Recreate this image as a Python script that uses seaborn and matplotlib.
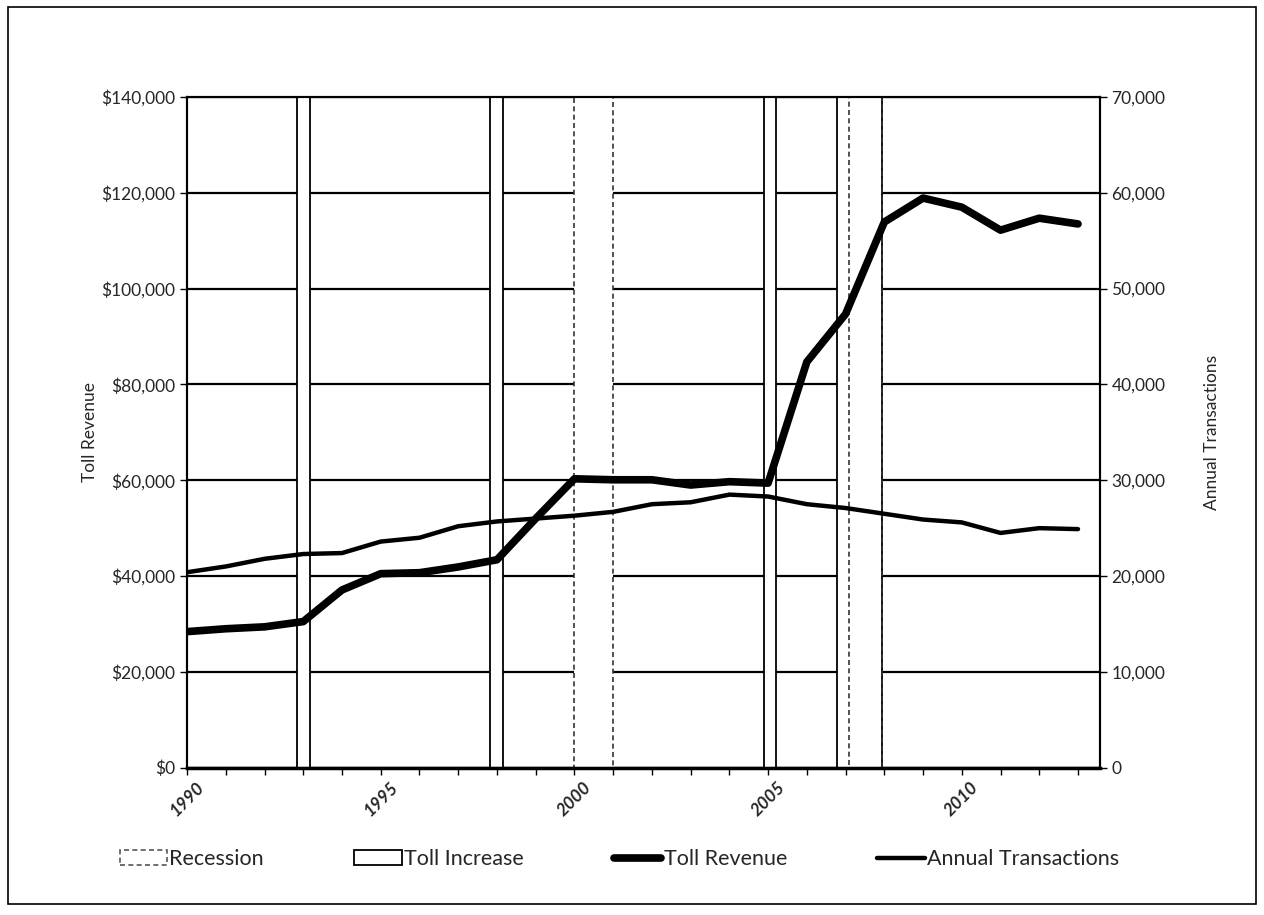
import numpy as np
import pandas as pd
import matplotlib
matplotlib.use("Agg")
import matplotlib.pyplot as plt
import matplotlib.ticker as mticker
from matplotlib.patches import Patch, Rectangle
from matplotlib.lines import Line2D
import seaborn as sns

# Data
years = list(range(1990, 2014))
toll_revenue = [28400, 29000, 29400, 30500, 37100, 40500, 40700, 41900, 43400, 52000,
                60300, 60100, 60100, 59000, 59700, 59400, 84700, 94700, 113900, 118900,
                117000, 112200, 114700, 113500]
annual_transactions = [20400, 21000, 21800, 22300, 22400, 23600, 24000, 25200, 25700, 26000,
                       26300, 26700, 27500, 27700, 28500, 28300, 27500, 27100, 26500, 25900,
                       25600, 24500, 25000, 24900]
recession_spans = [(2000.0, 2001.0), (2007.1, 2007.94)]
toll_increase_spans = [(1992.84, 1993.17), (1997.82, 1998.15), (2004.89, 2005.2), (2006.77, 2007.94)]

df = pd.DataFrame({"Year": years, "Toll Revenue": toll_revenue,
                   "Annual Transactions": annual_transactions})

sns.set_theme(style="white")
plt.rcParams["font.family"] = ["Lato", "DejaVu Sans"]

fig = plt.figure(figsize=(12.64, 9.15), dpi=100)
ax = fig.add_axes([0.148, 0.161, 0.722, 0.733])
ax2 = ax.twinx()

# white bands that break the gridlines
for x0, x1 in toll_increase_spans:
    ax.axvspan(x0, x1, facecolor="white", edgecolor="black", lw=1.3, zorder=1)
for x0, x1 in recession_spans:
    ax.axvspan(x0, x1, facecolor="none", edgecolor="#333333", lw=1.2,
               linestyle=(0, (3, 2)), zorder=1.1)
# the first recession band still needs a white fill
ax.axvspan(*recession_spans[0], facecolor="white", edgecolor="none", zorder=0.9)

sns.lineplot(data=df, x="Year", y="Toll Revenue", ax=ax, color="black", lw=5.5, zorder=3)
sns.lineplot(data=df, x="Year", y="Annual Transactions", ax=ax2, color="black", lw=3.2)

ax.set_xlim(1990, 2013.56)
ax.set_ylim(0, 140000)
ax2.set_ylim(0, 70000)
ax.set_yticks(np.arange(0, 140001, 20000))
ax2.set_yticks(np.arange(0, 70001, 10000))
ax.yaxis.set_major_formatter(mticker.FuncFormatter(lambda v, p: f"${v:,.0f}"))
ax2.yaxis.set_major_formatter(mticker.FuncFormatter(lambda v, p: f"{v:,.0f}"))

ax.set_xticks(range(1990, 2011, 5))
ax.set_xticks(range(1990, 2014), minor=True)
ax.set_xticklabels([str(y) for y in range(1990, 2011, 5)], rotation=45, fontsize=12.5,
                   fontweight="bold", style="italic")

ax.grid(axis="y", color="black", lw=1.6)
ax.grid(axis="x", visible=False)
ax.set_axisbelow(True)
ax2.grid(False)

ax.tick_params(axis="x", which="both", direction="out", length=5, width=1, bottom=True, color="black")
ax.tick_params(axis="y", direction="out", length=5, width=1, left=True, labelsize=12.5, color="black")
ax2.tick_params(axis="y", direction="out", length=5, width=1, right=True, labelsize=12.5, color="black")

for a in (ax, ax2):
    for s in a.spines.values():
        s.set_color("black")
        s.set_linewidth(1.5)
ax.spines["bottom"].set_linewidth(2.5)

ax.set_xlabel("")
ax.set_ylabel("Toll Revenue", fontsize=12.5, labelpad=2)
ax2.set_ylabel("Annual Transactions", fontsize=12.5, labelpad=28)

handles = [
    Patch(facecolor="white", edgecolor="#555555", linestyle=(0, (3, 2)), lw=1.2),
    Patch(facecolor="white", edgecolor="black", lw=1.3),
    Line2D([], [], color="black", lw=5.5),
    Line2D([], [], color="black", lw=3.2),
]
fig.legend(handles, ["Recession", "Toll Increase", "Toll Revenue", "Annual Transactions"],
           loc="center", bbox_to_anchor=(0.49, 0.061), ncol=4, frameon=False, fontsize=15.5,
           handlelength=2.2, handletextpad=0.1, columnspacing=4.2)

fig.patches.append(Rectangle((0.006, 0.012), 0.988, 0.98, transform=fig.transFigure,
                             fill=False, edgecolor="black", lw=1.2))

fig.savefig("out.png", dpi=100)
